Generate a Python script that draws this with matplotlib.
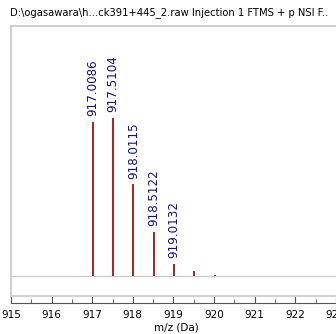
import matplotlib.pyplot as plt
from matplotlib.ticker import MultipleLocator

# peak centroids (m/z) and relative intensities
mz = [917.0086, 917.5104, 918.0115, 918.5122, 919.0132, 919.5140, 920.0150, 921.0]
intensity = [97.5, 100.0, 58.0, 28.0, 7.6, 3.3, 0.8, 0.2]
labelled = ['917.0086', '917.5104', '918.0115', '918.5122', '919.0132']

title = r'D:\ogasawara\h...ck391+445_2.raw Injection 1 FTMS + p NSI F..'

fig = plt.figure(figsize=(3.36, 3.34), dpi=100)
ax = fig.add_axes([11 / 336, 38 / 334, 330 / 336, 270 / 334])

ax.vlines(mz, 0, intensity, color='#a01010', linewidth=1.3)
ax.axhline(0, color='#cccccc', linewidth=1.0, zorder=0)

for x, y, lab in zip(mz, intensity, labelled):
    ax.annotate(lab, (x, y), xytext=(0, 4), textcoords='offset points',
                rotation=90, ha='center', va='bottom',
                color='#101080', fontsize=8.6)

ax.set_xlim(915, 915 + 330 / 40.6)
ax.set_ylim(-20 / 1.58, 250 / 1.58)
for s in ax.spines.values():
    s.set_color('#d0d0d0')
    s.set_linewidth(1.5)
ax.set_xticks([])
ax.set_yticks([])

# separate x axis drawn just below the box
sec = ax.secondary_xaxis(-7 / 270)
sec.spines['bottom'].set_color('#555555')
sec.xaxis.set_major_locator(MultipleLocator(1))
sec.xaxis.set_minor_locator(MultipleLocator(0.5))
sec.tick_params(which='major', direction='in', length=5, color='#555555',
                labelsize=7.5, pad=5)
sec.tick_params(which='minor', direction='in', length=3, color='#555555')
sec.xaxis.set_major_formatter(lambda v, p: f'{v:.0f}')
sec.set_xlabel('m/z (Da)', fontsize=7.5, labelpad=2)

fig.text(10 / 336, 1 - 13 / 334, title, fontsize=7.2, va='center', ha='left')

fig.savefig('out.png', dpi=100)
